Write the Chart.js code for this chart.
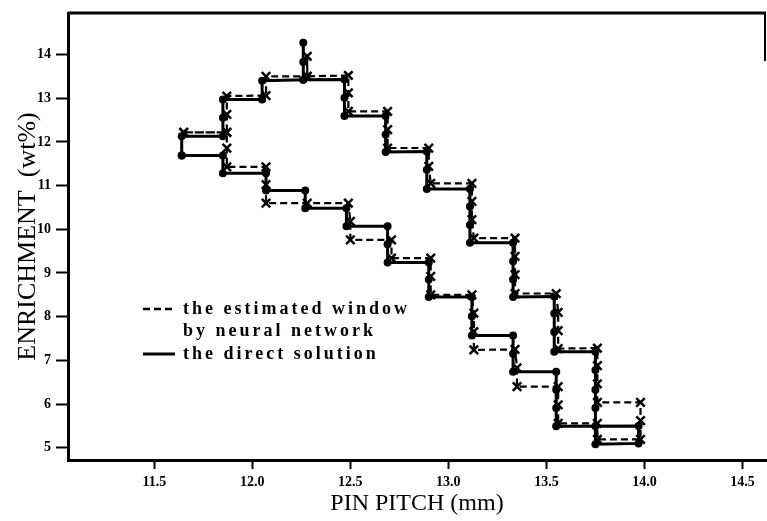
<!DOCTYPE html>
<html>
<head>
<meta charset="utf-8">
<script src="https://cdn.jsdelivr.net/npm/chart.js@4.4.1/dist/chart.umd.min.js"></script>
<style>
  body { margin: 0; background: #fff; }
  #wrap { width: 767px; height: 521px; }
</style>
</head>
<body>
<div id="wrap"><canvas id="grafico" width="767" height="521"></canvas></div>
<script>
// direct solution (solid line, dots) - closed outline of the window
const directPitch = [11.64, 11.64, 11.85, 11.85, 11.85, 12.05, 12.05, 12.26, 12.26, 12.26, 12.26, 12.47, 12.47, 12.47,
    12.68, 12.68, 12.68, 12.89, 12.89, 12.89, 13.11, 13.11, 13.11, 13.11, 13.33, 13.33, 13.33, 13.33,
    13.54, 13.54, 13.54, 13.54, 13.75, 13.75, 13.75, 13.75, 13.75, 13.75, 13.97, 13.97,
    13.55, 13.55, 13.55, 13.55, 13.33, 13.33, 13.33, 13.12, 13.12, 13.12, 12.90, 12.90, 12.90,
    12.69, 12.69, 12.69, 12.48, 12.48, 12.27, 12.27, 12.07, 12.07, 11.85, 11.85, 11.64];
const directEnrich = [11.69, 12.13, 12.13, 12.55, 12.97, 12.97, 13.40, 13.42, 13.83, 14.27, 13.42, 13.43, 13.01, 12.59,
    12.59, 12.17, 11.77, 11.78, 11.36, 10.92, 10.92, 10.52, 10.10, 9.69, 9.69, 9.27, 8.85, 8.45,
    8.46, 8.07, 7.65, 7.20, 7.20, 6.78, 6.33, 5.91, 5.49, 5.08, 5.10, 5.50,
    5.49, 5.91, 6.33, 6.74, 6.74, 7.15, 7.57, 7.57, 8.01, 8.45, 8.45, 8.85, 9.24,
    9.24, 9.66, 10.07, 10.07, 10.48, 10.48, 10.89, 10.89, 11.28, 11.28, 11.69, 11.69];

// estimated window by neural network (dashed line, x marks)
const estPitch = [11.65, 11.87, 11.87, 11.87, 12.07, 12.07, 12.28, 12.28, 12.28, 12.49, 12.49, 12.49,
    12.69, 12.69, 12.69, 12.90, 12.90, 12.91, 13.12, 13.12, 13.12, 13.13, 13.34, 13.34, 13.34, 13.34,
    13.55, 13.56, 13.56, 13.56, 13.76, 13.76, 13.76, 13.76, 13.98, 13.98, 13.98, 13.76, 13.76,
    13.56, 13.56, 13.56, 13.35, 13.35, 13.34, 13.13, 13.13, 13.13, 13.12, 12.91, 12.91, 12.91,
    12.71, 12.71, 12.50, 12.50, 12.49, 12.28, 12.07, 12.07, 12.07, 11.87, 11.87, 11.87, 11.65];
const estEnrich = [12.22, 12.22, 12.63, 13.05, 13.06, 13.50, 13.50, 13.96, 13.50, 13.52, 13.12, 12.70,
    12.70, 12.28, 11.86, 11.86, 11.44, 11.05, 11.05, 10.64, 10.22, 9.80, 9.80, 9.38, 8.96, 8.53,
    8.53, 8.10, 7.68, 7.27, 7.28, 6.88, 6.46, 6.04, 6.04, 5.62, 5.19, 5.19, 5.56,
    5.56, 5.98, 6.40, 6.40, 6.83, 7.25, 7.24, 7.66, 8.08, 8.50, 8.50, 8.92, 9.34,
    9.34, 9.76, 9.76, 10.18, 10.60, 10.60, 10.60, 11.02, 11.43, 11.43, 11.86, 12.22, 12.22];

const xTicks = [11.5, 12.0, 12.5, 13.0, 13.5, 14.0, 14.5];
const yTicks = [5, 6, 7, 8, 9, 10, 11, 12, 13, 14];

const serif = "'Liberation Serif', 'DejaVu Serif', serif";

// top and right frame + legend text inside the plot
const moldura = {
    id: 'moldura',
    afterDraw(chart) {
        const ctx = chart.ctx;
        const a = chart.chartArea;
        ctx.save();
        ctx.strokeStyle = '#000';
        ctx.lineWidth = 3;
        ctx.beginPath();
        ctx.moveTo(a.left, a.top);
        ctx.lineTo(a.right, a.top);
        ctx.stroke();
        ctx.lineWidth = 2;
        ctx.beginPath();
        ctx.moveTo(a.right - 1, a.top);
        ctx.lineTo(a.right - 1, a.top + 48);
        ctx.stroke();

        // legenda
        ctx.lineWidth = 2.5;
        ctx.setLineDash([7, 4]);
        ctx.beginPath();
        ctx.moveTo(143, 309);
        ctx.lineTo(174, 309);
        ctx.stroke();
        ctx.setLineDash([]);
        ctx.lineWidth = 3;
        ctx.beginPath();
        ctx.moveTo(143, 354);
        ctx.lineTo(175, 354);
        ctx.stroke();

        ctx.fillStyle = '#000';
        ctx.font = "bold 18px " + serif;
        ctx.textBaseline = 'middle';
        ctx.textAlign = 'left';
        if ('letterSpacing' in ctx) ctx.letterSpacing = '3px';
        ctx.fillText('the estimated window', 183, 309);
        ctx.fillText('by neural network', 183, 331);
        ctx.fillText('the direct solution', 183, 354);
        ctx.restore();
    }
};

const ctx = document.getElementById('grafico').getContext('2d');
window.myChart = new Chart(ctx, {
    type: 'scatter',
    data: {
        datasets: [{
            label: 'the direct solution',
            data: directPitch.map((p, i) => ({x: p, y: directEnrich[i]})),
            showLine: true,
            borderColor: '#000',
            borderWidth: 3,
            backgroundColor: '#000',
            pointStyle: 'circle',
            pointRadius: 4,
            pointBorderWidth: 0
        }, {
            label: 'the estimated window by neural network',
            data: estPitch.map((p, i) => ({x: p, y: estEnrich[i]})),
            showLine: true,
            borderColor: '#000',
            borderWidth: 2.2,
            borderDash: [7, 4],
            backgroundColor: '#000',
            pointStyle: 'crossRot',
            pointRadius: 6,
            pointBorderWidth: 2.5
        }]
    },
    options: {
        responsive: false,
        animation: false,
        devicePixelRatio: 1,
        layout: { autoPadding: false, padding: { top: 13, right: 1, left: 0, bottom: 0 } },
        plugins: { legend: { display: false }, tooltip: { enabled: false } },
        scales: {
            x: {
                type: 'linear',
                min: 11.06,
                max: 14.62,
                afterBuildTicks: s => { s.ticks = xTicks.map(v => ({value: v})); },
                afterFit: s => { s.height = 61; s.paddingLeft = 0; s.paddingRight = 0; },
                grid: { drawOnChartArea: false, drawTicks: true, tickLength: 9, tickWidth: 2, tickColor: '#000' },
                border: { display: true, color: '#000', width: 3 },
                ticks: {
                    color: '#000', padding: 5, maxRotation: 0,
                    font: { family: serif, size: 14, weight: 'bold' },
                    callback: v => v.toFixed(1)
                },
                title: {
                    display: true, text: 'PIN PITCH (mm)', color: '#000',
                    font: { family: serif, size: 24 }, padding: { top: 0, bottom: 3 }
                }
            },
            y: {
                type: 'linear',
                min: 4.72,
                max: 14.95,
                afterBuildTicks: s => { s.ticks = yTicks.map(v => ({value: v})); },
                afterFit: s => { s.width = 68; s.paddingTop = 0; s.paddingBottom = 0; },
                grid: { drawOnChartArea: false, drawTicks: true, tickLength: 12, tickWidth: 2, tickColor: '#000' },
                border: { display: true, color: '#000', width: 3 },
                ticks: {
                    color: '#000', padding: 5,
                    font: { family: serif, size: 14, weight: 'bold' }
                },
                title: {
                    display: true, text: 'ENRICHMENT  (wt%)', color: '#000',
                    font: { family: serif, size: 26 }, padding: { top: 13, bottom: 0 }
                }
            }
        }
    },
    plugins: [moldura]
});
</script>
</body>
</html>
